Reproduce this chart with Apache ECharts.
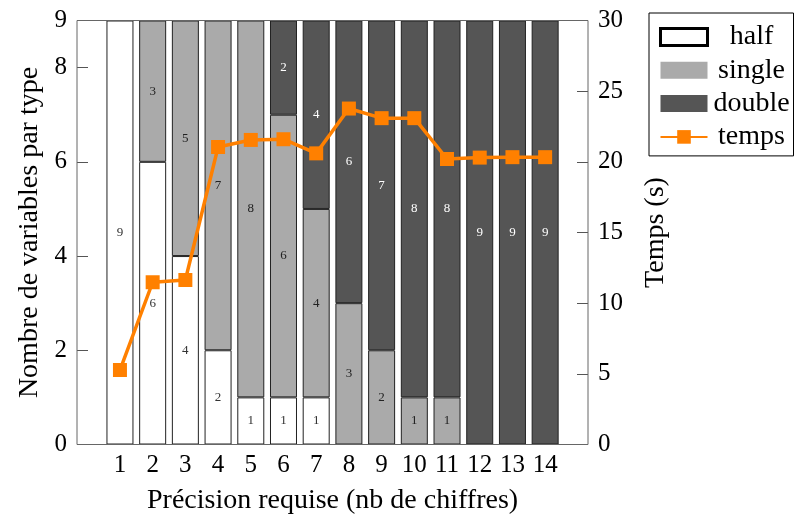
<!DOCTYPE html>
<html><head><meta charset="utf-8">
<script src="https://cdn.jsdelivr.net/npm/echarts@6/dist/echarts.min.js"></script>
<style>html,body{margin:0;padding:0;background:#fff}#c{width:796px;height:517px}</style>
</head><body><div id="c"></div>
<script>
const categories = ['1','2','3','4','5','6','7','8','9','10','11','12','13','14'];
const half   = [9,6,4,2,1,1,1,0,0,0,0,0,0,0];
const single = [0,3,5,7,8,6,4,3,2,1,1,0,0,0];
const double = [0,0,0,0,0,2,4,6,7,8,8,9,9,9];
const temps  = [5.27,11.48,11.64,21.05,21.55,21.6,20.6,23.77,23.09,23.09,20.2,20.3,20.33,20.33];
const leftTicks  = [0,2,4,6,8,9];
const rightTicks = [0,5,10,15,20,25,30];

const FONT = 'Liberation Serif';
const TITLE = 28, TICK = 25;
const chart = echarts.init(document.getElementById('c'));
function barSeries(name, arr, color, labelColor){
  return {
    name, type:'bar', stack:'v', barWidth:27, data:arr,
    itemStyle:{color, borderColor:'#222', borderWidth:1},
    label:{show:true, position:'inside', color:labelColor, fontFamily:FONT, fontSize:13,
      formatter:p=> (p.value ? String(p.value) : '')},
    emphasis:{disabled:true}
  };
}
chart.setOption({
  animation:false,
  textStyle:{fontFamily:FONT},
  grid:[
    {left:103.6, right:234.5, top:20.5, bottom:72.5, show:false, containLabel:false, outerBoundsMode:'none'},
    {left:77, right:208, top:20.5, bottom:72.5, show:true, borderColor:'#666', borderWidth:1, backgroundColor:'transparent', z:5, containLabel:false, outerBoundsMode:'none'}
  ],
  legend:{
    orient:'vertical', left:649, top:13, width:146,
    backgroundColor:'#fff', borderColor:'#000', borderWidth:1,
    padding:[10,3,5,10], itemWidth:47, itemHeight:17, itemGap:5.3,
    formatter:n=>'{a|'+n+'}',
    textStyle:{fontFamily:FONT, fontSize:TITLE, color:'#000',
      rich:{a:{width:78, align:'center', fontFamily:FONT, fontSize:TITLE, lineHeight:30}}},
    data:[
      {name:'half', icon:'rect', itemStyle:{color:'#fff', borderColor:'#000', borderWidth:3}},
      {name:'single', icon:'rect', itemStyle:{color:'#aaaaaa', borderWidth:0}},
      {name:'double', icon:'rect', itemStyle:{color:'#555555', borderWidth:0}},
      {name:'temps'}
    ]
  },
  xAxis:{
    type:'category', data:categories, gridIndex:0,
    name:'Précision requise (nb de chiffres)', nameLocation:'middle', nameGap:42,
    nameTextStyle:{fontFamily:FONT, fontSize:TITLE, color:'#000'},
    axisLine:{show:false}, axisTick:{show:false}, splitLine:{show:false},
    axisLabel:{fontFamily:FONT, fontSize:TICK, color:'#000', margin:8, interval:0}
  },
  yAxis:[
    {type:'value', min:0, max:9, position:'left', offset:26.6, gridIndex:0,
     name:'Nombre de variables par type', nameLocation:'middle', nameGap:32, nameRotate:90,
     nameTextStyle:{fontFamily:FONT, fontSize:TITLE, color:'#000'},
     axisLine:{show:false}, splitLine:{show:false},
     axisTick:{show:true, inside:true, length:11, customValues:leftTicks, lineStyle:{color:'#555'}},
     axisLabel:{customValues:leftTicks, fontFamily:FONT, fontSize:TICK, color:'#000', margin:10}},
    {type:'value', min:0, max:30, position:'right', offset:26.5, gridIndex:0,
     name:'Temps (s)', nameLocation:'middle', nameGap:54, nameRotate:90,
     nameTextStyle:{fontFamily:FONT, fontSize:TITLE, color:'#000'},
     axisLine:{show:false}, splitLine:{show:false},
     axisTick:{show:true, inside:true, length:11, customValues:rightTicks, lineStyle:{color:'#555'}},
     axisLabel:{customValues:rightTicks, fontFamily:FONT, fontSize:TICK, color:'#000', margin:10}}
  ],
  series:[
    barSeries('half', half, '#ffffff', '#333'),
    barSeries('single', single, '#aaaaaa', '#222'),
    barSeries('double', double, '#555555', '#fff'),
    {name:'temps', type:'line', yAxisIndex:1, data:temps,
     symbol:'rect', symbolSize:14, lineStyle:{width:3.5, color:'#ff8000'},
     itemStyle:{color:'#ff8000'}, z:10, emphasis:{disabled:true}}
  ]
});
</script></body></html>
